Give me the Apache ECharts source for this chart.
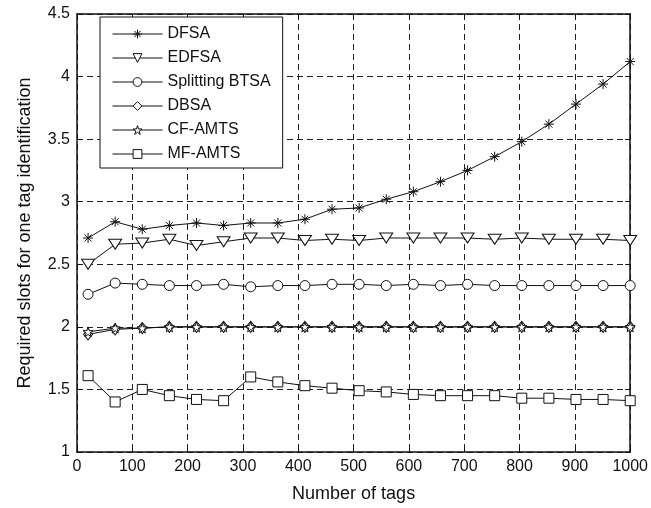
<!DOCTYPE html>
<html>
<head>
<meta charset="utf-8">
<script src="https://cdn.jsdelivr.net/npm/echarts@6/dist/echarts.min.js"></script>
<style>
  html, body { margin: 0; padding: 0; background: #fff; }
  #chart { width: 651px; height: 508px; }
</style>
</head>
<body>
<div id="chart"></div>
<script>
// Number of tags (x positions)
const tagCounts = [20, 69, 118, 167, 216, 265, 314, 363, 412, 461, 510, 559, 608, 657, 706, 755, 804, 853, 902, 951, 1000];

// Required slots per identified tag, one array per algorithm
const dfsa = [2.71, 2.84, 2.78, 2.81, 2.83, 2.81, 2.83, 2.83, 2.86, 2.94, 2.95, 3.02, 3.08, 3.16, 3.25, 3.36, 3.48, 3.62, 3.78, 3.94, 4.12];
const edfsa = [2.50, 2.66, 2.67, 2.70, 2.65, 2.68, 2.71, 2.71, 2.69, 2.70, 2.69, 2.71, 2.71, 2.71, 2.71, 2.70, 2.71, 2.70, 2.70, 2.70, 2.69];
const splittingBtsa = [2.26, 2.35, 2.34, 2.33, 2.33, 2.34, 2.32, 2.33, 2.33, 2.34, 2.34, 2.33, 2.34, 2.33, 2.34, 2.33, 2.33, 2.33, 2.33, 2.33, 2.33];
const dbsa = [1.94, 1.98, 1.99, 2.00, 2.00, 2.00, 2.00, 2.00, 2.00, 2.00, 2.00, 2.00, 2.00, 2.00, 2.00, 2.00, 2.00, 2.00, 2.00, 2.00, 2.00];
const cfAmts = [1.96, 1.99, 1.99, 2.00, 2.00, 2.00, 2.00, 2.00, 2.00, 2.00, 2.00, 2.00, 2.00, 2.00, 2.00, 2.00, 2.00, 2.00, 2.00, 2.00, 2.00];
const mfAmts = [1.61, 1.40, 1.50, 1.45, 1.42, 1.41, 1.60, 1.56, 1.53, 1.51, 1.49, 1.48, 1.46, 1.45, 1.45, 1.45, 1.43, 1.43, 1.42, 1.42, 1.41];

const seriesNames = ['DFSA', 'EDFSA', 'Splitting BTSA', 'DBSA', 'CF-AMTS', 'MF-AMTS'];

const xTitle = 'Number of tags';
const yTitle = 'Required slots for one tag identification';

// Marker shapes
const asteriskPath = 'path://M5,0 L5,10 M0,5 L10,5 M1.5,1.5 L8.5,8.5 M8.5,1.5 L1.5,8.5';
const downTrianglePath = 'path://M0,0 L10,0 L5,8.5 Z';
const pentagramPath = 'path://M5,0 L6.18,3.62 L10,3.62 L6.91,5.86 L8.09,9.51 L5,7.24 L1.91,9.51 L3.09,5.86 L0,3.62 L3.82,3.62 Z';

const ink = '#111';
const font = 'Liberation Sans, Arial, Helvetica, sans-serif';

function pairs(values) {
  return tagCounts.map((x, i) => [x, values[i]]);
}

function makeSeries(name, values, symbol, size) {
  return {
    name: name,
    type: 'line',
    data: pairs(values),
    symbol: symbol,
    symbolSize: size,
    showAllSymbol: true,
    lineStyle: { color: ink, width: 1 },
    itemStyle: { color: '#fff', borderColor: ink, borderWidth: 1 },
    emphasis: { disabled: true },
    animation: false
  };
}

const chart = echarts.init(document.getElementById('chart'), null, { renderer: 'canvas' });

const tickStyle = { show: true, inside: true, length: 5, lineStyle: { color: ink, width: 1 } };
const frameLine = { show: true, onZero: false, lineStyle: { color: ink, width: 1.5 } };
const gridLine = { show: true, lineStyle: { color: '#222', type: [6, 4], width: 1 } };

chart.setOption({
  animation: false,
  backgroundColor: '#fff',
  textStyle: { fontFamily: font },
  grid: { left: 77, right: 19, top: 14, bottom: 56, containLabel: false },
  legend: {
    orient: 'vertical',
    left: 100,
    top: 17,
    data: seriesNames,
    backgroundColor: '#fff',
    borderColor: ink,
    borderWidth: 1,
    borderRadius: 0,
    padding: [9, 12, 6, 12],
    itemWidth: 50,
    itemHeight: 11,
    itemGap: 8,
    lineStyle: { width: 1, color: ink },
    itemStyle: { color: '#fff', borderColor: ink, borderWidth: 1 },
    textStyle: { fontSize: 16, color: ink, fontFamily: font },
    selectedMode: false
  },
  xAxis: [
    {
      type: 'value', min: 0, max: 1000, interval: 100,
      position: 'bottom',
      name: xTitle,
      nameLocation: 'middle',
      nameGap: 33,
      nameTextStyle: { fontSize: 18, color: ink, fontFamily: font },
      axisLine: frameLine,
      axisTick: tickStyle,
      axisLabel: { fontSize: 16, color: ink, margin: 7, fontFamily: font, formatter: v => String(v) },
      splitLine: gridLine
    },
    {
      type: 'value', min: 0, max: 1000, interval: 100,
      position: 'top',
      axisLine: frameLine,
      axisTick: tickStyle,
      axisLabel: { show: false },
      splitLine: { show: false }
    }
  ],
  yAxis: [
    {
      type: 'value', min: 1, max: 4.5, interval: 0.5,
      position: 'left',
      name: yTitle,
      nameLocation: 'middle',
      nameGap: 43,
      nameTextStyle: { fontSize: 18, color: ink, fontFamily: font },
      axisLine: frameLine,
      axisTick: tickStyle,
      axisLabel: { fontSize: 16, color: ink, margin: 7, fontFamily: font, formatter: v => String(v) },
      splitLine: gridLine
    },
    {
      type: 'value', min: 1, max: 4.5, interval: 0.5,
      position: 'right',
      axisLine: frameLine,
      axisTick: tickStyle,
      axisLabel: { show: false },
      splitLine: { show: false }
    }
  ],
  series: [
    makeSeries(seriesNames[0], dfsa, asteriskPath, 10),
    makeSeries(seriesNames[1], edfsa, downTrianglePath, [13, 10]),
    makeSeries(seriesNames[2], splittingBtsa, 'circle', 10),
    makeSeries(seriesNames[3], dbsa, 'diamond', [9, 11]),
    makeSeries(seriesNames[4], cfAmts, pentagramPath, 10),
    makeSeries(seriesNames[5], mfAmts, 'rect', 10)
  ]
});
</script>
</body>
</html>
